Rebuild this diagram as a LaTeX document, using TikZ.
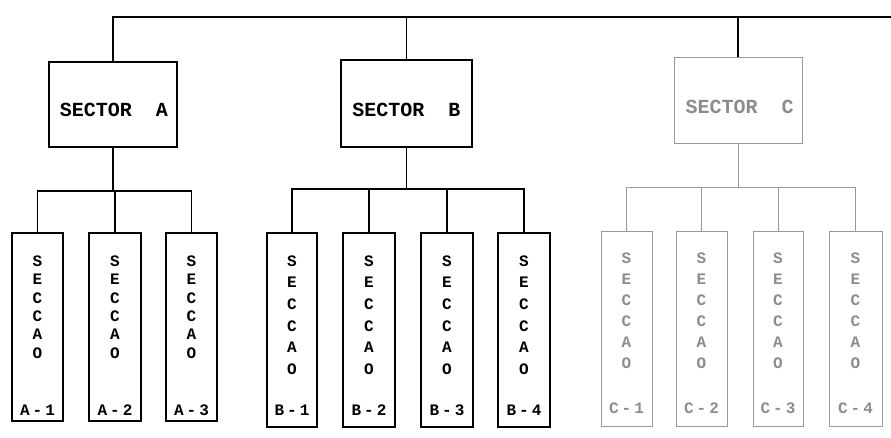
\documentclass[tikz,border=0pt]{standalone}
\usepackage{fontspec}
\setmonofont{Liberation Mono}
\usetikzlibrary{calc}
\begin{document}
\begin{tikzpicture}[x=1pt,y=-1pt,
  wire/.style={line width=1.4pt},
  gwire/.style={line width=0.9pt, draw=black!40},
  sectbox/.style={draw, line width=1.5pt, inner sep=0pt},
  gsectbox/.style={draw=black!40, line width=1pt, inner sep=0pt},
  secttext/.style={font=\fontsize{20}{24}\ttfamily\bfseries, inner sep=0pt},
  stack/.style={align=center, inner sep=0pt},
  lbl/.style={font=\fontsize{16}{18}\ttfamily\bfseries, inner sep=0pt}]
\useasboundingbox (0,0) rectangle (891,438);

% top bus
\coordinate (topR) at (891,17);

% sectors
\node[sectbox, minimum width=128pt, minimum height=85pt] (sa) at (113,104.5) {};
\node[sectbox, minimum width=131pt, minimum height=87pt] (sb) at (406.5,103.5) {};
\node[gsectbox, minimum width=128pt, minimum height=86pt] (sc) at (738,101) {};
\node[secttext] (ta) at (114,110) {SECTOR~~A};
\node[secttext] (tb) at (406.5,110) {SECTOR~~B};
\node[secttext, text=black!45] (tc) at (739.5,107) {SECTOR~~C};

\draw[wire] (sa.north) |- (topR);
\draw[wire] (sb.north) -- (sb.north |- topR);
\draw[wire] (sc.north) -- (sc.north |- topR);

% sections A
\foreach \n/\x/\w in {a1/37.5/51, a2/115/52, a3/191.5/51}{
  \node[sectbox, minimum width=\w pt, minimum height=188pt] (\n) at (\x,327) {};
  \node[stack, font=\fontsize{16}{18.4}\ttfamily\bfseries] (\n s) at (\x,307) {S\\E\\C\\C\\A\\O};
}
\node[lbl] (a1l) at (37.5,410) {A\hspace{3pt}-\hspace{3pt}1};
\node[lbl] (a2l) at (115,410) {A\hspace{3pt}-\hspace{3pt}2};
\node[lbl] (a3l) at (191.5,410) {A\hspace{3pt}-\hspace{3pt}3};
\coordinate (busA) at (0,191);
\draw[wire] (sa.south) -- (sa.south |- busA);
\draw[wire] (a1.north) |- (a3.north |- busA) -- (a3.north);
\draw[wire] (a2.north) -- (a2.north |- busA);

% sections B
\foreach \n/\x/\w in {b1/292/50, b2/369/52, b3/447/52, b4/524/52}{
  \node[sectbox, minimum width=\w pt, minimum height=194pt] (\n) at (\x,330) {};
  \node[stack, font=\fontsize{16}{21.6}\ttfamily\bfseries] (\n s) at (\x,315) {S\\E\\C\\C\\A\\O};
}
\node[lbl] (b1l) at (292,410) {B\hspace{3pt}-\hspace{3pt}1};
\node[lbl] (b2l) at (369,410) {B\hspace{3pt}-\hspace{3pt}2};
\node[lbl] (b3l) at (447,410) {B\hspace{3pt}-\hspace{3pt}3};
\node[lbl] (b4l) at (524,410) {B\hspace{3pt}-\hspace{3pt}4};
\coordinate (busB) at (0,189);
\draw[wire] (sb.south) -- (sb.south |- busB);
\draw[wire] (b1.north) |- (b4.north |- busB) -- (b4.north);
\draw[wire] (b2.north) -- (b2.north |- busB);
\draw[wire] (b3.north) -- (b3.north |- busB);

% sections C (faint)
\foreach \n/\x/\w in {c1/626.5/51, c2/701.5/51, c3/778/50, c4/855.5/53}{
  \node[gsectbox, minimum width=\w pt, minimum height=194pt] (\n) at (\x,329) {};
  \node[stack, text=black!45, font=\fontsize{16}{21}\ttfamily\bfseries] (\n s) at (\x,311) {S\\E\\C\\C\\A\\O};
}
\node[lbl, text=black!45] (c1l) at (626.5,408) {C\hspace{3pt}-\hspace{3pt}1};
\node[lbl, text=black!45] (c2l) at (701.5,408) {C\hspace{3pt}-\hspace{3pt}2};
\node[lbl, text=black!45] (c3l) at (778,408) {C\hspace{3pt}-\hspace{3pt}3};
\node[lbl, text=black!45] (c4l) at (855.5,408) {C\hspace{3pt}-\hspace{3pt}4};
\coordinate (busC) at (0,187);
\draw[gwire] (sc.south) -- (sc.south |- busC);
\draw[gwire] (c1.north) |- (c4.north |- busC) -- (c4.north);
\draw[gwire] (c2.north) -- (c2.north |- busC);
\draw[gwire] (c3.north) -- (c3.north |- busC);
\end{tikzpicture}
\end{document}
